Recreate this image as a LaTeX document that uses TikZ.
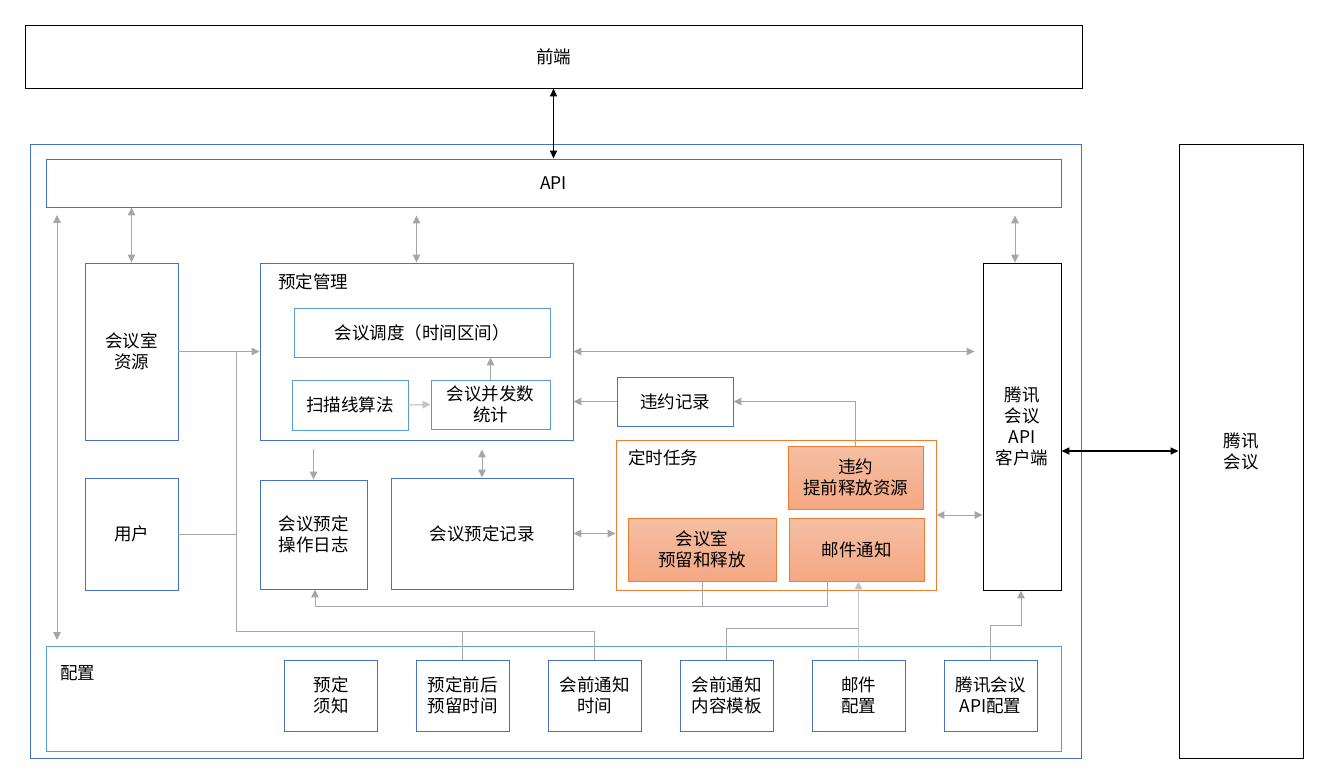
\documentclass[tikz,border=0pt]{standalone}
\usepackage{fontspec}
\setmainfont{Noto Sans CJK SC}
\usetikzlibrary{arrows.meta,calc}
\definecolor{blueA}{HTML}{4472C4}
\definecolor{blueB}{HTML}{5B9BD5}
\definecolor{orA}{HTML}{ED7D31}
\definecolor{grA}{HTML}{A6A6A6}
\definecolor{grB}{HTML}{C4C4C4}
\definecolor{orTop}{HTML}{F5BFA4}
\definecolor{orBot}{HTML}{F5A782}
\tikzset{
  bx/.style={draw=blueA, line width=0.9pt, align=center, inner sep=0pt, font=\fontsize{17.5}{21}\selectfont},
  lbx/.style={bx, draw=blueB},
  kbx/.style={bx, draw=black},
  obx/.style={bx, draw=orA, top color=orTop, bottom color=orBot},
  obox/.style={bx, draw=orA},
  lbl/.style={anchor=west, inner sep=0pt, font=\fontsize{17.5}{21}\selectfont},
  gline/.style={draw=grA, line width=1pt},
  gl2/.style={draw=grB, line width=1.2pt},
  garrow/.style={gline, -{Triangle[width=7.5pt,length=8pt]}},
  gdarrow/.style={gline, {Triangle[width=7.5pt,length=8pt]}-{Triangle[width=7.5pt,length=8pt]}},
  barrow/.style={draw=black, line width=1.5pt, {Triangle[width=7pt,length=8pt]}-{Triangle[width=7pt,length=8pt]}},
}
\begin{document}
\begin{tikzpicture}[x=1pt,y=-1pt]
\useasboundingbox (0,0) rectangle (1325,775);
% containers
\node[bx, minimum width=1051pt, minimum height=614pt] (outer) at (555.5,451) {};
\node[kbx, minimum width=1057pt, minimum height=63pt] (front) at (553.5,56.5) {前端};
\node[bx, minimum width=1015pt, minimum height=48pt] (api) at (553.5,183) {API};
\node[kbx, minimum width=124pt, minimum height=614pt] (tx) at (1241,451) {腾讯\\会议};
\node[kbx, minimum width=78pt, minimum height=327pt] (client) at (1022,426.5) {腾讯\\会议\\API\\客户端};
\node[bx, minimum width=93pt, minimum height=177pt] (room) at (131.5,351.5) {会议室\\资源};
\node[bx, minimum width=313pt, minimum height=177pt] (mgmt) at (416.5,351.5) {};
\node[lbl] at (278,282) {预定管理};
\node[lbx, minimum width=256pt, minimum height=49pt] (sched) at (422,332.5) {会议调度（时间区间）};
\node[lbx, minimum width=116pt, minimum height=50pt] (scan) at (350,405) {扫描线算法};
\node[lbx, minimum width=119pt, minimum height=49pt] (conc) at (490.5,404.5) {会议并发数\\统计};
\node[bx, minimum width=116pt, minimum height=49pt] (viol) at (675,401.5) {违约记录};
\node[obox, minimum width=320pt, minimum height=150pt] (timer) at (776,515) {};
\node[lbl] at (628,458) {定时任务};
\node[obx, minimum width=135pt, minimum height=63pt] (release) at (855.5,477.5) {违约\\提前释放资源};
\node[obx, minimum width=148pt, minimum height=63pt] (reserve) at (702,549.5) {会议室\\预留和释放};
\node[obx, minimum width=135pt, minimum height=63pt] (mail) at (856.5,549.5) {邮件通知};
\node[bx, minimum width=93pt, minimum height=112pt] (user) at (131.5,534) {用户};
\node[bx, minimum width=107pt, minimum height=109pt] (log) at (313.5,534.5) {会议预定\\操作日志};
\node[bx, minimum width=182pt, minimum height=111pt] (rec) at (482,533.5) {会议预定记录};
\node[lbx, minimum width=1015pt, minimum height=105pt] (config) at (553.5,698.5) {};
\node[lbl] at (60,673) {配置};
\node[bx, minimum width=93pt, minimum height=71pt] (c1) at (331,695.5) {预定\\须知};
\node[bx, minimum width=93pt, minimum height=71pt] (c2) at (462.5,695.5) {预定前后\\预留时间};
\node[bx, minimum width=93pt, minimum height=71pt] (c3) at (594.5,695.5) {会前通知\\时间};
\node[bx, minimum width=93pt, minimum height=71pt] (c4) at (726.5,695.5) {会前通知\\内容模板};
\node[bx, minimum width=93pt, minimum height=71pt] (c5) at (858.5,695.5) {邮件\\配置};
\node[bx, minimum width=93pt, minimum height=71pt] (c6) at (990.5,695.5) {腾讯会议\\API配置};
% black connectors
\draw[barrow] (front.south) -- (api.north);
\draw[barrow] (client.east |- tx.west) -- (tx.west);
% gray connectors
\coordinate (lt) at (57,215);
\coordinate (lb) at (57,640);
\draw[gdarrow] (lt) -- (lb);
\draw[gdarrow] (api.south -| room.north) -- (room.north);
\draw[gdarrow] ([yshift=-8pt]api.south -| mgmt.north) -- (mgmt.north);
\draw[gdarrow] ([xshift=-7pt,yshift=-8pt]api.south -| client.north) -- ([xshift=-7pt]client.north);
\draw[garrow] (room.east) -- (mgmt.west);
\coordinate (bj) at (236,351.5);
\coordinate (bus) at (236,631);
\draw[gline] (user.east) -- (user.east -| bj);
\draw[gline] (bj) -- (bus) -| (c3.north);
\draw[gline] (bus -| c2.north) -- (c2.north);
\draw[gl2, -{Triangle[width=7.5pt,length=8pt]}] (scan.east) -- (conc.west);
\draw[garrow] (conc.north) -- (conc.north |- sched.south);
\draw[gdarrow, shorten >=8pt] (mgmt.east) -- (client.west |- mgmt.east);
\draw[garrow] (viol.west) -- (mgmt.east |- viol.west);
\draw[garrow] (release.north) |- (viol.east);
\draw[garrow] ([yshift=-9pt]mgmt.south -| log.north) -- (log.north);
\draw[gdarrow] ([yshift=-9pt]mgmt.south -| rec.north) -- (rec.north);
\draw[gdarrow] (rec.east) -- (timer.west |- rec.east);
\draw[gdarrow] (timer.east) -- (client.west |- timer.east);
\coordinate (lg) at (315,606);
\draw[gline] (reserve.south) -- (reserve.south |- lg);
\draw[garrow] ([xshift=-29.5pt]mail.south) |- (lg) -- (lg |- log.south);
\coordinate (mj) at (858.5,628);
\draw[gline] (c4.north) |- (mj);
\draw[gl2, -{Triangle[width=7.5pt,length=8pt]}] (c5.north) -- (c5.north |- mail.south);
\draw[garrow] (c6.north) -- ++(0,-34) -| ([xshift=-1pt]client.south);
\end{tikzpicture}
\end{document}
